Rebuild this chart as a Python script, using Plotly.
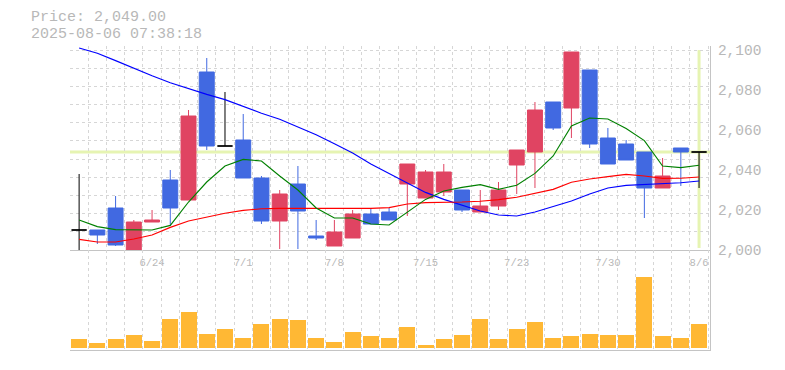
import plotly.graph_objects as go

# ---------------- data ----------------
dates = ["6/18", "6/19", "6/20", "6/23", "6/24", "6/25", "6/26", "6/27", "6/30",
         "7/1", "7/2", "7/3", "7/4", "7/7", "7/8", "7/9", "7/10", "7/11",
         "7/14", "7/15", "7/16", "7/17", "7/18", "7/22", "7/23", "7/24", "7/25",
         "7/28", "7/29", "7/30", "7/31", "8/1", "8/4", "8/5", "8/6"]

open_ = [2010, 2010, 2021, 2000, 2014, 2035, 2025, 2089, 2052,
         2055, 2036, 2014.5, 2033, 2007, 2002, 2006, 2018, 2019,
         2033, 2026, 2029, 2030, 2019, 2022, 2042.5, 2049, 2074,
         2071, 2090, 2056, 2053, 2049, 2031, 2051, 2049]
high = [2038, 2010, 2027, 2015, 2020, 2040, 2070, 2096, 2079,
        2068, 2037, 2030, 2042, 2015, 2015, 2020, 2021, 2021,
        2043, 2040, 2043, 2030, 2030, 2034, 2050, 2074, 2074,
        2099, 2090, 2061, 2055, 2049, 2046, 2051, 2049]
low = [2000, 2003, 2002, 2000, 2014, 2012, 2025, 2050, 2052,
       2036, 2013, 2000.5, 2000.5, 2005, 2002, 2006, 2013, 2015,
       2017, 2026, 2027, 2019, 2019, 2020, 2028, 2031, 2060,
       2056, 2051, 2043, 2045, 2016, 2031, 2032, 2031]
close = [2010, 2007.5, 2002.5, 2014, 2015, 2021, 2067, 2052, 2052,
         2036, 2014.5, 2028, 2019.5, 2006, 2009, 2018, 2013, 2015,
         2043, 2039, 2039, 2020, 2022, 2030, 2050, 2070, 2061,
         2099, 2053, 2043, 2045, 2031, 2037, 2049, 2049]

ma_5 = [2015, 2011.7, 2010.2, 2010, 2010, 2012.3, 2024, 2034, 2042,
        2045.3, 2044.5, 2037, 2030, 2021, 2016, 2016, 2013, 2012.5,
        2019, 2025.3, 2029.5, 2031.3, 2032.7, 2030.3, 2032.4, 2038.3, 2047,
        2062, 2066, 2065.5, 2060.7, 2054.7, 2042, 2041.2, 2042.4]
ma_25 = [2101, 2098.4, 2094.7, 2090.7, 2087.1, 2083.6, 2080.6, 2077.8, 2075.2,
         2071.8, 2068.4, 2065.4, 2061.7, 2057.6, 2053.1, 2048.5, 2043, 2038.2,
         2033.5, 2028.8, 2025.3, 2022.5, 2019.5, 2017.5, 2017, 2019, 2021.8,
         2024.5, 2028, 2031, 2032.3, 2032.8, 2033.2, 2033.6, 2034.5]
ma_75 = [2005.3, 2004, 2004, 2005.5, 2007.5, 2011.3, 2014.5, 2016.6, 2018.4,
         2019.8, 2020.6, 2020.8, 2020.8, 2020.8, 2020.8, 2020.8, 2020.8, 2021.2,
         2023, 2023.7, 2023.7, 2024, 2024.4, 2025.2, 2026.4, 2028.3, 2030.3,
         2033.9, 2035.5, 2036.7, 2037.8, 2037, 2035.8, 2035.9, 2036.5]

volume_k = [9, 5, 9, 13, 7, 29, 36, 14, 19,
            10, 24, 29, 28, 10, 6, 16, 12, 10,
            21, 3, 9, 13, 29, 9, 19, 26, 10,
            12, 14, 13, 13, 71, 12, 10, 24]

tick_labels = ["6/24", "7/1", "7/8", "7/15", "7/23", "7/30", "8/6"]
price_ticks = [2000, 2020, 2040, 2060, 2080, 2100]
current_price = 2049.00
timestamp = "2025-08-06 07:38:18"

# ---------------- styles ----------------
RED = "#E04462"
BLUE = "#4169E1"
BLACK = "#000000"
VOL = "#FFB834"
GRID = "#d6d6d6"
AXIS = "#c4c4c4"
TXT = "#b8b8b8"
CROSS = "#E6F4B2"
FONT = "Liberation Mono"
DASH = "3px,3px"

# the page body adds an 8px offset at top/left; the figure is shrunk to fit
PAGE_OFF = 8

x = list(range(len(dates)))


def subset(cond):
    idx = [i for i in x if cond(i)]
    return (idx, [open_[i] for i in idx], [high[i] for i in idx],
            [low[i] for i in idx], [close[i] for i in idx])


fig = go.Figure()

for cond, col in [(lambda i: close[i] > open_[i], RED),
                  (lambda i: close[i] < open_[i], BLUE),
                  (lambda i: close[i] == open_[i], BLACK)]:
    xi, o, h, l, c = subset(cond)
    fig.add_trace(go.Candlestick(
        x=xi, open=o, high=h, low=l, close=c,
        increasing=dict(line=dict(color=col, width=1), fillcolor=col),
        decreasing=dict(line=dict(color=col, width=1), fillcolor=col),
        whiskerwidth=0, showlegend=False, hoverinfo="skip",
        xaxis="x", yaxis="y"))

for vals, col in [(ma_25, "#0000FF"), (ma_75, "#FF0000"), (ma_5, "#008000")]:
    fig.add_trace(go.Scatter(x=x, y=vals, mode="lines",
                             line=dict(color=col, width=1.15),
                             showlegend=False, hoverinfo="skip",
                             xaxis="x", yaxis="y"))

fig.add_trace(go.Bar(x=x, y=volume_k, marker=dict(color=VOL, line=dict(width=0)),
                     width=0.88, showlegend=False, hoverinfo="skip",
                     xaxis="x2", yaxis="y2"))

# crosshair of the current price
fig.add_shape(type="line", xref="x domain", yref="y", x0=0, x1=1,
              y0=current_price, y1=current_price,
              line=dict(color=CROSS, width=3), layer="below")
fig.add_shape(type="line", xref="x", yref="y domain", x0=x[-1], x1=x[-1],
              y0=0.01, y1=0.98, line=dict(color=CROSS, width=3), layer="below")

main_h = 204
vol_h = 100
plot_w = 640
plot_h = main_h + vol_h
split = vol_h / plot_h
left, top = 70, 46          # plot area position on the page

minor_x = dict(tickmode="linear", tick0=-0.5, dtick=1, showgrid=True,
               gridcolor=GRID, griddash=DASH, gridwidth=1, ticklen=0)

fig.update_layout(
    width=785 - PAGE_OFF, height=370 - PAGE_OFF,
    margin=dict(l=left - PAGE_OFF, r=785 - left - plot_w,
                t=top - PAGE_OFF, b=370 - top - plot_h, autoexpand=False),
    paper_bgcolor="white", plot_bgcolor="white",
    boxgap=0.18, boxgroupgap=0, bargap=0,
    showlegend=False,
    xaxis=dict(domain=[0, 1], anchor="y", range=[-0.5, 34.6],
               tickmode="array",
               tickvals=[dates.index(t) for t in tick_labels],
               ticktext=tick_labels,
               showgrid=False, zeroline=False,
               minor=minor_x,
               showline=True, linecolor=AXIS, linewidth=1,
               ticks="outside", ticklen=2, tickcolor="rgba(0,0,0,0)",
               tickfont=dict(family=FONT, size=10.5, color=TXT),
               rangeslider=dict(visible=False), automargin=False),
    xaxis2=dict(domain=[0, 1], anchor="y2", matches="x", range=[-0.5, 34.6],
                showticklabels=False, showgrid=False, zeroline=False,
                minor=minor_x, showline=True, linecolor=AXIS, linewidth=1,
                ticks="", automargin=False),
    yaxis=dict(domain=[split, 1], anchor="x", range=[2000, 2102], side="right",
               tickmode="array", tickvals=price_ticks, tickformat=",d",
               showgrid=False, zeroline=False,
               minor=dict(tickmode="linear", tick0=2000, dtick=100 / 11,
                          showgrid=True, gridcolor=GRID, griddash=DASH,
                          gridwidth=1, ticklen=0),
               showline=True, linecolor=AXIS, linewidth=1,
               ticks="outside", ticklen=4, tickcolor="rgba(0,0,0,0)",
               tickfont=dict(family=FONT, size=14.5, color=TXT),
               automargin=False),
    yaxis2=dict(domain=[0, split], anchor="x2", range=[-2, 98], side="right",
                showticklabels=False, showgrid=False, zeroline=False,
                showline=True, linecolor=AXIS, linewidth=1, ticks="",
                automargin=False),
)

bottom = top + plot_h
fig.add_annotation(xref="paper", yref="paper", x=(30 - left) / plot_w,
                   y=(bottom - 25.5) / plot_h,
                   xanchor="left", yanchor="bottom", showarrow=False,
                   borderpad=0, height=15,
                   text=f"Price: {current_price:,.2f}",
                   font=dict(family=FONT, size=15, color=TXT))
fig.add_annotation(xref="paper", yref="paper", x=(30 - left) / plot_w,
                   y=(bottom - 25.5) / plot_h,
                   xanchor="left", yanchor="top", showarrow=False,
                   borderpad=0, height=15,
                   text=timestamp,
                   font=dict(family=FONT, size=15, color=TXT))

fig.write_html("out.html")
